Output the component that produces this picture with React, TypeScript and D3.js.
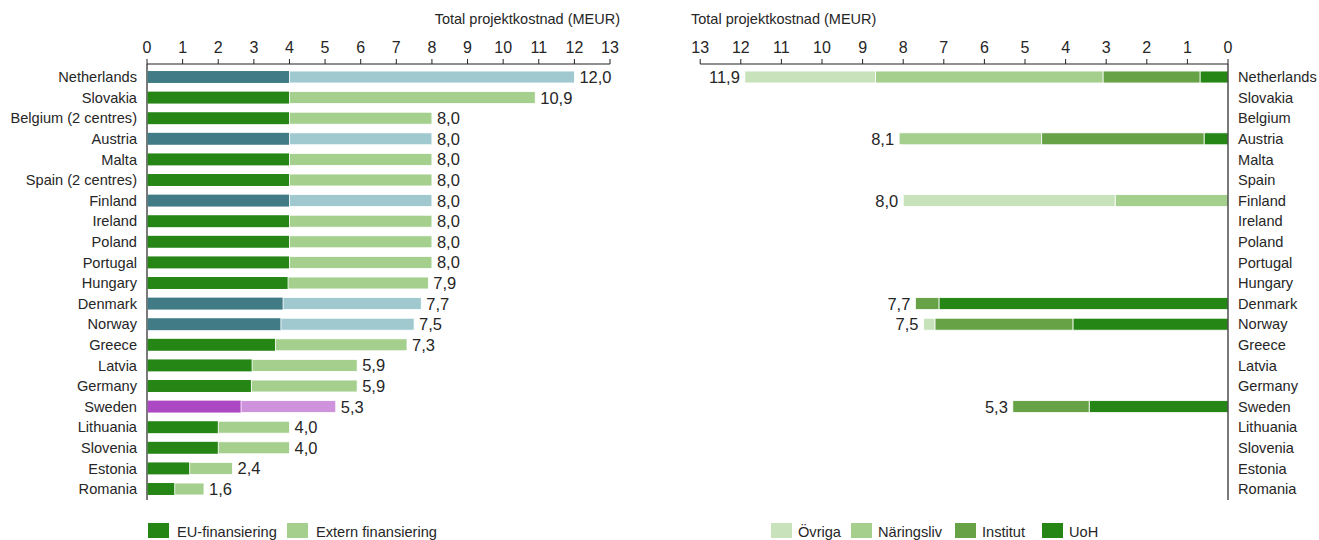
import React from "react";
import * as d3 from "d3";

// Countries, top to bottom
const countries = [
  "Netherlands", "Slovakia", "Belgium (2 centres)", "Austria", "Malta",
  "Spain (2 centres)", "Finland", "Ireland", "Poland", "Portugal", "Hungary",
  "Denmark", "Norway", "Greece", "Latvia", "Germany", "Sweden", "Lithuania",
  "Slovenia", "Estonia", "Romania",
];
// Short names used on the right-hand panel
const countriesShort = [
  "Netherlands", "Slovakia", "Belgium", "Austria", "Malta", "Spain", "Finland",
  "Ireland", "Poland", "Portugal", "Hungary", "Denmark", "Norway", "Greece",
  "Latvia", "Germany", "Sweden", "Lithuania", "Slovenia", "Estonia", "Romania",
];

// Left panel: EU funding and total project cost (MEUR)
const euFunding = [
  4.0, 4.0, 4.0, 4.0, 4.0, 4.0, 4.0, 4.0, 4.0, 4.0, 3.96,
  3.82, 3.76, 3.61, 2.95, 2.93, 2.64, 2.0, 2.0, 1.2, 0.78,
];
const totalCost = [
  12.0, 10.9, 8.0, 8.0, 8.0, 8.0, 8.0, 8.0, 8.0, 8.0, 7.9,
  7.7, 7.5, 7.3, 5.9, 5.9, 5.3, 4.0, 4.0, 2.4, 1.6,
];
// Colour group per country: "n" = nordic/benchmark, "s" = Sweden, "g" = other
const colourGroup = [
  "n", "g", "g", "n", "g", "g", "n", "g", "g", "g", "g",
  "n", "n", "g", "g", "g", "s", "g", "g", "g", "g",
];

// Right panel: co-financing by partner type (MEUR)
const uoh = [0.69, 0, 0, 0.59, 0, 0, 0, 0, 0, 0, 0, 7.12, 3.82, 0, 0, 0, 3.42, 0, 0, 0, 0];
const institut = [2.39, 0, 0, 4.0, 0, 0, 0, 0, 0, 0, 0, 0.58, 3.4, 0, 0, 0, 1.88, 0, 0, 0, 0];
const naringsliv = [5.6, 0, 0, 3.51, 0, 0, 2.78, 0, 0, 0, 0, 0, 0, 0, 0, 0, 0, 0, 0, 0, 0];
const ovriga = [3.22, 0, 0, 0, 0, 0, 5.22, 0, 0, 0, 0, 0, 0.28, 0, 0, 0, 0, 0, 0, 0, 0];

const axisTicks = d3.range(0, 14);
const axisTitle = "Total projektkostnad (MEUR)";
const leftLegend = ["EU-finansiering", "Extern finansiering"];
const rightLegend = ["Övriga", "Näringsliv", "Institut", "UoH"];

const palette: Record<string, [string, string]> = {
  g: ["#258615", "#a4cf8d"],
  n: ["#417c86", "#9fc9cf"],
  s: ["#ad48c4", "#cf92dc"],
};
const stackColours: Record<string, string> = {
  uoh: "#258615",
  institut: "#67a247",
  naringsliv: "#a4cf8d",
  ovriga: "#c8e3bc",
};

const W = 1319;
const H = 540;
const FONT = "'Liberation Sans', Arial, sans-serif";
const TEXT = "#262626";
const fmt = (v: number) => d3.format(".1f")(v).replace(".", ",");

export default function App() {
  const y = d3.scaleBand<string>().domain(countries).range([66.7, 499.3]).paddingInner(0.42).paddingOuter(0.21);
  const rowY = (i: number) => (y(countries[i]) as number);
  const bh = y.bandwidth();
  const mid = (i: number) => rowY(i) + bh / 2;

  const xL = d3.scaleLinear().domain([0, 13]).range([147, 610]);
  const xR = d3.scaleLinear().domain([0, 13]).range([1228, 700.2]);
  const axisY = 64;
  const axisBottom = 500;

  const rows = countries.map((c, i) => ({
    key: c,
    uoh: uoh[i],
    institut: institut[i],
    naringsliv: naringsliv[i],
    ovriga: ovriga[i],
  }));
  const stackKeys = ["uoh", "institut", "naringsliv", "ovriga"];
  const stacked = d3.stack<any>().keys(stackKeys)(rows);

  const legendL = [
    { label: leftLegend[0], colour: palette.g[0], x: 148 },
    { label: leftLegend[1], colour: palette.g[1], x: 287 },
  ];
  const legendR = [
    { label: rightLegend[0], colour: stackColours.ovriga, x: 771 },
    { label: rightLegend[1], colour: stackColours.naringsliv, x: 851 },
    { label: rightLegend[2], colour: stackColours.institut, x: 955 },
    { label: rightLegend[3], colour: stackColours.uoh, x: 1042 },
  ];

  return (
    <svg
      width={W}
      height={H}
      style={{ position: "absolute", left: 0, top: 0, background: "#fff" }}
      fontFamily={FONT}
      fontSize={14.6}
      fill={TEXT}
    >
      {/* ---------- Left panel ---------- */}
      <text x={620} y={24}>
        <tspan textAnchor="end" fontSize={14.5}>{axisTitle}</tspan>
      </text>
      <line x1={xL(0)} x2={xL(13)} y1={axisY} y2={axisY} stroke="#222" strokeWidth={1} />
      {axisTicks.map((t) => (
        <g key={"lt" + t}>
          <line x1={xL(t)} x2={xL(t)} y1={axisY} y2={axisY - 5} stroke="#222" />
          <text x={xL(t)} y={52.5} textAnchor="middle" fontSize={16}>{t}</text>
        </g>
      ))}
      <line x1={xL(0)} x2={xL(0)} y1={axisY} y2={axisBottom} stroke="#222" strokeWidth={1.2} />
      {countries.map((c, i) => {
        const [dark, light] = palette[colourGroup[i]];
        return (
          <g key={"l" + c}>
            <text x={137} y={mid(i)} dy="0.35em" textAnchor="end">{c}</text>
            <rect x={xL(0) + 0.6} y={rowY(i)} width={xL(euFunding[i]) - xL(0) - 0.6} height={bh} fill={dark} />
            <rect
              x={xL(euFunding[i])}
              y={rowY(i)}
              width={xL(totalCost[i]) - xL(euFunding[i])}
              height={bh}
              fill={light}
              stroke="#fff"
              strokeWidth={0.8}
            />
            <text x={xL(totalCost[i]) + 5} y={mid(i)} dy="0.36em" fontSize={16.5}>{fmt(totalCost[i])}</text>
          </g>
        );
      })}
      {legendL.map((d) => (
        <g key={d.label}>
          <rect x={d.x} y={523} width={21} height={15} fill={d.colour} />
          <text x={d.x + 29} y={536.5}>{d.label}</text>
        </g>
      ))}

      {/* ---------- Right panel ---------- */}
      <text x={691} y={24} textAnchor="start" fontSize={14.5}>{axisTitle}</text>
      <line x1={xR(13)} x2={xR(0)} y1={axisY} y2={axisY} stroke="#222" strokeWidth={1} />
      {axisTicks.map((t) => (
        <g key={"rt" + t}>
          <line x1={xR(t)} x2={xR(t)} y1={axisY} y2={axisY - 5} stroke="#222" />
          <text x={xR(t)} y={52.5} textAnchor="middle" fontSize={16}>{t}</text>
        </g>
      ))}
      {stacked.map((layer) => (
        <g key={layer.key} fill={stackColours[layer.key]}>
          {layer.map((seg, i) =>
            seg[1] - seg[0] > 0 ? (
              <rect
                key={i}
                x={xR(seg[1])}
                y={rowY(i)}
                width={xR(seg[0]) - xR(seg[1])}
                height={bh}
                stroke="#fff"
                strokeWidth={0.8}
              />
            ) : null
          )}
        </g>
      ))}
      {rows.map((r, i) => {
        const sum = r.uoh + r.institut + r.naringsliv + r.ovriga;
        return sum > 0 ? (
          <text key={"rv" + i} x={xR(sum) - 5} y={mid(i)} dy="0.36em" textAnchor="end" fontSize={16.5}>{fmt(sum)}</text>
        ) : null;
      })}
      <line x1={xR(0)} x2={xR(0)} y1={axisY} y2={axisBottom} stroke="#222" strokeWidth={1.2} />
      {countriesShort.map((c, i) => (
        <text key={"r" + c} x={1238} y={mid(i)} dy="0.35em">{c}</text>
      ))}
      {legendR.map((d) => (
        <g key={d.label}>
          <rect x={d.x} y={523} width={21} height={15} fill={d.colour} />
          <text x={d.x + 27} y={536.5}>{d.label}</text>
        </g>
      ))}
    </svg>
  );
}
